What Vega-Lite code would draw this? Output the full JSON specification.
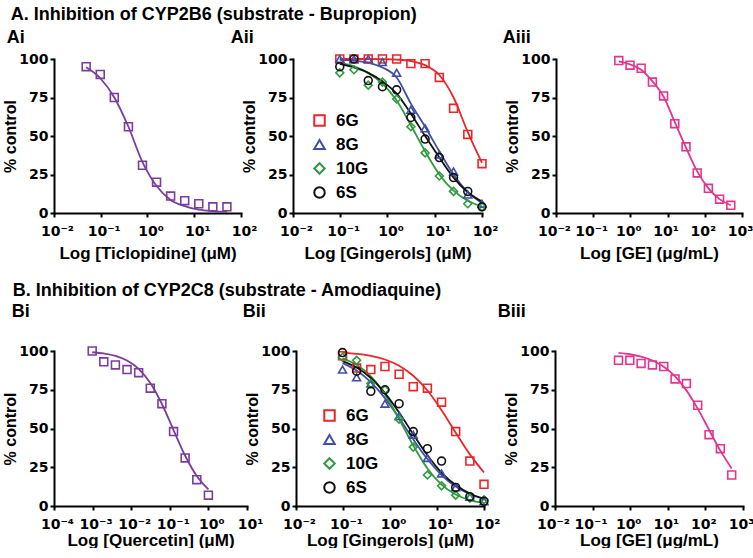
{
  "$schema": "https://vega.github.io/schema/vega-lite/v6.json",
  "background": "white",
  "padding": {"left": 2, "top": 5, "right": 0, "bottom": 0},
  "datasets": {
    "d": [
      {"p":"Ai","c":"Ticlopidine","x":0.0488,"y":95,"f":94.6},
      {"p":"Ai","c":"Ticlopidine","x":0.0977,"y":90,"f":87.5},
      {"p":"Ai","c":"Ticlopidine","x":0.195,"y":75,"f":75},
      {"p":"Ai","c":"Ticlopidine","x":0.391,"y":56,"f":56},
      {"p":"Ai","c":"Ticlopidine","x":0.781,"y":31,"f":33},
      {"p":"Ai","c":"Ticlopidine","x":1.5625,"y":20,"f":17.5},
      {"p":"Ai","c":"Ticlopidine","x":3.125,"y":11,"f":8.5},
      {"p":"Ai","c":"Ticlopidine","x":6.25,"y":8,"f":4.5},
      {"p":"Ai","c":"Ticlopidine","x":12.5,"y":6,"f":2.2},
      {"p":"Ai","c":"Ticlopidine","x":25,"y":4,"f":1.2},
      {"p":"Ai","c":"Ticlopidine","x":50,"y":4,"f":0.7},

      {"p":"Aii","c":"6G","x":0.0977,"y":100,"f":100},
      {"p":"Aii","c":"6G","x":0.195,"y":100,"f":100},
      {"p":"Aii","c":"6G","x":0.391,"y":100,"f":100},
      {"p":"Aii","c":"6G","x":0.781,"y":100,"f":99.9},
      {"p":"Aii","c":"6G","x":1.5625,"y":100,"f":99.6},
      {"p":"Aii","c":"6G","x":3.125,"y":97,"f":98.7},
      {"p":"Aii","c":"6G","x":6.25,"y":97,"f":96},
      {"p":"Aii","c":"6G","x":12.5,"y":88,"f":89.6},
      {"p":"Aii","c":"6G","x":25,"y":68,"f":75},
      {"p":"Aii","c":"6G","x":50,"y":51,"f":52.5},
      {"p":"Aii","c":"6G","x":100,"y":32,"f":32.5},
      {"p":"Aii","c":"8G","x":0.0977,"y":100,"f":99.5},
      {"p":"Aii","c":"8G","x":0.195,"y":100,"f":99},
      {"p":"Aii","c":"8G","x":0.391,"y":100,"f":97.5},
      {"p":"Aii","c":"8G","x":0.781,"y":98,"f":94.5},
      {"p":"Aii","c":"8G","x":1.5625,"y":91,"f":88},
      {"p":"Aii","c":"8G","x":3.125,"y":67,"f":71},
      {"p":"Aii","c":"8G","x":6.25,"y":55,"f":56},
      {"p":"Aii","c":"8G","x":12.5,"y":38,"f":40},
      {"p":"Aii","c":"8G","x":25,"y":27,"f":25},
      {"p":"Aii","c":"8G","x":50,"y":12,"f":13.5},
      {"p":"Aii","c":"8G","x":100,"y":6,"f":6.5},
      {"p":"Aii","c":"10G","x":0.0977,"y":91,"f":97.5},
      {"p":"Aii","c":"10G","x":0.195,"y":93,"f":95.3},
      {"p":"Aii","c":"10G","x":0.391,"y":83,"f":91},
      {"p":"Aii","c":"10G","x":0.781,"y":85,"f":84},
      {"p":"Aii","c":"10G","x":1.5625,"y":74,"f":73},
      {"p":"Aii","c":"10G","x":3.125,"y":56,"f":57},
      {"p":"Aii","c":"10G","x":6.25,"y":39,"f":40},
      {"p":"Aii","c":"10G","x":12.5,"y":24,"f":25},
      {"p":"Aii","c":"10G","x":25,"y":14,"f":14.5},
      {"p":"Aii","c":"10G","x":50,"y":6,"f":8},
      {"p":"Aii","c":"10G","x":100,"y":4,"f":4.3},
      {"p":"Aii","c":"6S","x":0.0977,"y":95,"f":96.8},
      {"p":"Aii","c":"6S","x":0.195,"y":100,"f":94.5},
      {"p":"Aii","c":"6S","x":0.391,"y":86,"f":91},
      {"p":"Aii","c":"6S","x":0.781,"y":82,"f":85.5},
      {"p":"Aii","c":"6S","x":1.5625,"y":80,"f":77.5},
      {"p":"Aii","c":"6S","x":3.125,"y":62,"f":64.5},
      {"p":"Aii","c":"6S","x":6.25,"y":48,"f":50},
      {"p":"Aii","c":"6S","x":12.5,"y":36,"f":36},
      {"p":"Aii","c":"6S","x":25,"y":23,"f":23},
      {"p":"Aii","c":"6S","x":50,"y":14,"f":13.5},
      {"p":"Aii","c":"6S","x":100,"y":4,"f":7.4},

      {"p":"Aiii","c":"GE","x":0.488,"y":99,"f":98.5},
      {"p":"Aiii","c":"GE","x":0.977,"y":96,"f":96.5},
      {"p":"Aiii","c":"GE","x":1.95,"y":94,"f":93},
      {"p":"Aiii","c":"GE","x":3.91,"y":85,"f":85.5},
      {"p":"Aiii","c":"GE","x":7.81,"y":76,"f":75.5},
      {"p":"Aiii","c":"GE","x":15.6,"y":58,"f":59},
      {"p":"Aiii","c":"GE","x":31.25,"y":43,"f":42.5},
      {"p":"Aiii","c":"GE","x":62.5,"y":26,"f":27},
      {"p":"Aiii","c":"GE","x":125,"y":16,"f":16},
      {"p":"Aiii","c":"GE","x":250,"y":9,"f":9},
      {"p":"Aiii","c":"GE","x":500,"y":5,"f":5},

      {"p":"Bi","c":"Quercetin","x":0.000977,"y":100,"f":99.2},
      {"p":"Bi","c":"Quercetin","x":0.00195,"y":93,"f":98.4},
      {"p":"Bi","c":"Quercetin","x":0.0039,"y":91,"f":96.9},
      {"p":"Bi","c":"Quercetin","x":0.0078,"y":88,"f":93.9},
      {"p":"Bi","c":"Quercetin","x":0.0156,"y":86,"f":88.5},
      {"p":"Bi","c":"Quercetin","x":0.03125,"y":76,"f":79.3},
      {"p":"Bi","c":"Quercetin","x":0.0625,"y":66,"f":65.8},
      {"p":"Bi","c":"Quercetin","x":0.125,"y":48,"f":49},
      {"p":"Bi","c":"Quercetin","x":0.25,"y":31,"f":32.4},
      {"p":"Bi","c":"Quercetin","x":0.5,"y":17,"f":19.3},
      {"p":"Bi","c":"Quercetin","x":1,"y":7,"f":10.7},

      {"p":"Bii","c":"6G","x":0.0977,"y":97,"f":99},
      {"p":"Bii","c":"6G","x":0.195,"y":89,"f":98.2},
      {"p":"Bii","c":"6G","x":0.391,"y":88,"f":96.9},
      {"p":"Bii","c":"6G","x":0.781,"y":90,"f":94.5},
      {"p":"Bii","c":"6G","x":1.5625,"y":85,"f":90.5},
      {"p":"Bii","c":"6G","x":3.125,"y":77,"f":84},
      {"p":"Bii","c":"6G","x":6.25,"y":76,"f":74.5},
      {"p":"Bii","c":"6G","x":12.5,"y":67,"f":61.8},
      {"p":"Bii","c":"6G","x":25,"y":48,"f":47.3},
      {"p":"Bii","c":"6G","x":50,"y":29,"f":33.3},
      {"p":"Bii","c":"6G","x":100,"y":14,"f":21.6},
      {"p":"Bii","c":"8G","x":0.0977,"y":88,"f":92.2},
      {"p":"Bii","c":"8G","x":0.195,"y":83,"f":87.4},
      {"p":"Bii","c":"8G","x":0.391,"y":79,"f":79.9},
      {"p":"Bii","c":"8G","x":0.781,"y":66,"f":69.6},
      {"p":"Bii","c":"8G","x":1.5625,"y":58,"f":56.8},
      {"p":"Bii","c":"8G","x":3.125,"y":46,"f":43},
      {"p":"Bii","c":"8G","x":6.25,"y":31,"f":30.3},
      {"p":"Bii","c":"8G","x":12.5,"y":21,"f":20},
      {"p":"Bii","c":"8G","x":25,"y":12,"f":12.5},
      {"p":"Bii","c":"8G","x":50,"y":6,"f":7.6},
      {"p":"Bii","c":"8G","x":100,"y":3,"f":4.5},
      {"p":"Bii","c":"10G","x":0.0977,"y":96,"f":95.3},
      {"p":"Bii","c":"10G","x":0.195,"y":94,"f":91.1},
      {"p":"Bii","c":"10G","x":0.391,"y":79,"f":83.6},
      {"p":"Bii","c":"10G","x":0.781,"y":75,"f":71.9},
      {"p":"Bii","c":"10G","x":1.5625,"y":56,"f":56.1},
      {"p":"Bii","c":"10G","x":3.125,"y":38,"f":39},
      {"p":"Bii","c":"10G","x":6.25,"y":20,"f":24.2},
      {"p":"Bii","c":"10G","x":12.5,"y":13,"f":13.8},
      {"p":"Bii","c":"10G","x":25,"y":7,"f":7.4},
      {"p":"Bii","c":"10G","x":50,"y":5,"f":3.8},
      {"p":"Bii","c":"10G","x":100,"y":4,"f":2.0},
      {"p":"Bii","c":"6S","x":0.0977,"y":99,"f":93.5},
      {"p":"Bii","c":"6S","x":0.195,"y":87,"f":89.3},
      {"p":"Bii","c":"6S","x":0.391,"y":74,"f":82.6},
      {"p":"Bii","c":"6S","x":0.781,"y":75,"f":72.8},
      {"p":"Bii","c":"6S","x":1.5625,"y":66,"f":60.3},
      {"p":"Bii","c":"6S","x":3.125,"y":48,"f":46.3},
      {"p":"Bii","c":"6S","x":6.25,"y":37,"f":32.8},
      {"p":"Bii","c":"6S","x":12.5,"y":29,"f":21.6},
      {"p":"Bii","c":"6S","x":25,"y":12,"f":13.5},
      {"p":"Bii","c":"6S","x":50,"y":6,"f":8.1},
      {"p":"Bii","c":"6S","x":100,"y":3,"f":4.8},

      {"p":"Biii","c":"GE","x":0.488,"y":94,"f":98.8},
      {"p":"Biii","c":"GE","x":0.977,"y":94,"f":97.9},
      {"p":"Biii","c":"GE","x":1.95,"y":92,"f":96.4},
      {"p":"Biii","c":"GE","x":3.91,"y":91,"f":93.9},
      {"p":"Biii","c":"GE","x":7.81,"y":90,"f":89.9},
      {"p":"Biii","c":"GE","x":15.6,"y":82,"f":83.6},
      {"p":"Biii","c":"GE","x":31.25,"y":79,"f":74.6},
      {"p":"Biii","c":"GE","x":62.5,"y":65,"f":62.8},
      {"p":"Biii","c":"GE","x":125,"y":46,"f":49.2},
      {"p":"Biii","c":"GE","x":250,"y":37,"f":35.7},
      {"p":"Biii","c":"GE","x":500,"y":20,"f":24.2}
    ]
  },
  "data": {"name": "d"},
  "config": {
    "view": {"stroke": null},
    "font": "Liberation Sans",
    "axis": {
      "domainColor": "black", "domainWidth": 2, "domainCap": "square",
      "tickColor": "black", "tickWidth": 2, "tickSize": 4,
      "labelFont": "DejaVu Sans", "labelFontWeight": "bold", "labelFontSize": 14, "labelColor": "black",
      "titleFont": "Liberation Sans", "titleFontWeight": "bold", "titleColor": "black",
      "grid": false, "labelPadding": 2
    },
    "axisX": {"titleFontSize": 17, "labelAlign": "center", "labelOffset": 3, "labelPadding": 7, "titlePadding": 1, "labelFlush": false},
    "axisY": {"titleFontSize": 16, "titlePadding": 0},
    "title": {"font": "Liberation Sans", "fontWeight": "bold", "fontSize": 18, "color": "black", "anchor": "start", "frame": "bounds"},
    "legend": {"labelFont": "Liberation Sans", "labelFontWeight": "bold", "labelFontSize": 17, "labelColor": "black", "symbolStrokeWidth": 2, "symbolSize": 110, "rowPadding": 5, "labelOffset": 8},
    "point": {"opacity": 1},
    "line": {"strokeWidth": 1.8, "interpolate": "monotone"}
  },
  "spacing": 20,
  "resolve": {"scale": {"x": "independent", "y": "independent", "color": "independent", "shape": "independent"}, "legend": {"color": "independent", "shape": "independent"}},
  "vconcat": [
    {
      "title": {"text": "A. Inhibition of CYP2B6 (substrate - Bupropion)", "offset": 5, "dx": 8},
      "bounds": "flush",
      "spacing": 0,
      "resolve": {"scale": {"x": "independent", "y": "independent", "color": "independent", "shape": "independent"}, "legend": {"color": "independent", "shape": "independent"}},
      "hconcat": [
        {
          "title": {"text": "Ai", "offset": 5, "dx": 4},
          "width": 187, "height": 154,
          "transform": [{"filter": "datum.p == 'Ai'"}],
          "encoding": {
            "x": {"field": "x", "type": "quantitative", "scale": {"type": "log", "domain": [0.01, 100]},
                  "axis": {"values": [0.01, 0.1, 1, 10, 100], "title": "Log [Ticlopidine] (μM)", "titlePadding": 7,
                           "labelExpr": "'10' + ['⁻⁴','⁻³','⁻²','⁻¹','⁰','¹','²','³'][round(log(datum.value)/LN10)+4]"}},
            "y": {"field": "y", "type": "quantitative", "title": "% control", "scale": {"domain": [0, 100], "nice": false},
                  "axis": {"values": [0, 25, 50, 75, 100]}}
          },
          "layer": [
            {"mark": {"type": "line", "color": "#7A3C9E"}, "encoding": {"y": {"field": "f", "type": "quantitative", "title": "% control"}}},
            {"mark": {"type": "point", "shape": "square", "color": "#7A3C9E", "size": 62, "strokeWidth": 1.6, "filled": false}}
          ]
        },
        {"width": 52, "height": 10, "transform": [{"filter": "false"}], "mark": {"type": "point"}},
        {
          "title": {"text": "Aii", "offset": 5, "dx": -11},
          "width": 189, "height": 154,
          "transform": [{"filter": "datum.p == 'Aii'"}],
          "encoding": {
            "x": {"field": "x", "type": "quantitative", "scale": {"type": "log", "domain": [0.01, 100]},
                  "axis": {"values": [0.01, 0.1, 1, 10, 100], "title": "Log [Gingerols] (μM)", "titlePadding": 7,
                           "labelExpr": "'10' + ['⁻⁴','⁻³','⁻²','⁻¹','⁰','¹','²','³'][round(log(datum.value)/LN10)+4]"}},
            "y": {"field": "y", "type": "quantitative", "title": "% control", "scale": {"domain": [0, 100], "nice": false},
                  "axis": {"values": [0, 25, 50, 75, 100]}}
          },
          "layer": [
            {"transform": [{"filter": "datum.c == '6G'"}], "mark": {"type": "line", "color": "#E8262B"}, "encoding": {"y": {"field": "f", "type": "quantitative", "title": "% control"}}},
            {"transform": [{"filter": "datum.c == '8G'"}], "mark": {"type": "line", "color": "#3F4FA8"}, "encoding": {"y": {"field": "f", "type": "quantitative", "title": "% control"}}},
            {"transform": [{"filter": "datum.c == '10G'"}], "mark": {"type": "line", "color": "#2E9B3E"}, "encoding": {"y": {"field": "f", "type": "quantitative", "title": "% control"}}},
            {"transform": [{"filter": "datum.c == '6S'"}], "mark": {"type": "line", "color": "#111111"}, "encoding": {"y": {"field": "f", "type": "quantitative", "title": "% control"}}},
            {"mark": {"type": "point", "size": 62, "strokeWidth": 1.6, "filled": false},
             "encoding": {
               "color": {"field": "c", "type": "nominal", "scale": {"domain": ["6G", "8G", "10G", "6S"], "range": ["#E8262B", "#3F4FA8", "#2E9B3E", "#111111"]},
                         "legend": {"title": null, "orient": "none", "legendX": 18, "legendY": 53}},
               "shape": {"field": "c", "type": "nominal", "scale": {"domain": ["6G", "8G", "10G", "6S"], "range": ["square", "triangle-up", "diamond", "circle"]},
                         "legend": {"title": null, "orient": "none", "legendX": 18, "legendY": 53}}}}
          ]
        },
        {"width": 74, "height": 10, "transform": [{"filter": "false"}], "mark": {"type": "point"}},
        {
          "title": {"text": "Aiii", "offset": 5, "dx": -2},
          "width": 186, "height": 154,
          "transform": [{"filter": "datum.p == 'Aiii'"}],
          "encoding": {
            "x": {"field": "x", "type": "quantitative", "scale": {"type": "log", "domain": [0.01, 1000]},
                  "axis": {"values": [0.01, 0.1, 1, 10, 100, 1000], "title": "Log [GE] (μg/mL)", "titlePadding": 7, "labelOffset": -2,
                           "labelExpr": "'10' + ['⁻⁴','⁻³','⁻²','⁻¹','⁰','¹','²','³'][round(log(datum.value)/LN10)+4]"}},
            "y": {"field": "y", "type": "quantitative", "title": "% control", "scale": {"domain": [0, 100], "nice": false},
                  "axis": {"values": [0, 25, 50, 75, 100]}}
          },
          "layer": [
            {"mark": {"type": "line", "color": "#E3358E"}, "encoding": {"y": {"field": "f", "type": "quantitative", "title": "% control"}}},
            {"mark": {"type": "point", "shape": "square", "color": "#E3358E", "size": 62, "strokeWidth": 1.6, "filled": false}}
          ]
        }
      ]
    },
    {
      "title": {"text": "B. Inhibition of CYP2C8 (substrate - Amodiaquine)", "offset": 3, "dx": 10},
      "bounds": "flush",
      "spacing": 0,
      "resolve": {"scale": {"x": "independent", "y": "independent", "color": "independent", "shape": "independent"}, "legend": {"color": "independent", "shape": "independent"}},
      "hconcat": [
        {
          "title": {"text": "Bi", "offset": 23, "dx": 9},
          "width": 193, "height": 155,
          "transform": [{"filter": "datum.p == 'Bi'"}],
          "encoding": {
            "x": {"field": "x", "type": "quantitative", "scale": {"type": "log", "domain": [0.0001, 10]},
                  "axis": {"values": [0.0001, 0.001, 0.01, 0.1, 1, 10], "title": "Log [Quercetin] (μM)",
                           "labelExpr": "'10' + ['⁻⁴','⁻³','⁻²','⁻¹','⁰','¹','²','³'][round(log(datum.value)/LN10)+4]"}},
            "y": {"field": "y", "type": "quantitative", "title": "% control", "scale": {"domain": [0, 100], "nice": false},
                  "axis": {"values": [0, 25, 50, 75, 100]}}
          },
          "layer": [
            {"mark": {"type": "line", "color": "#7A3C9E"}, "encoding": {"y": {"field": "f", "type": "quantitative", "title": "% control"}}},
            {"mark": {"type": "point", "shape": "square", "color": "#7A3C9E", "size": 62, "strokeWidth": 1.6, "filled": false}}
          ]
        },
        {"width": 49, "height": 10, "transform": [{"filter": "false"}], "mark": {"type": "point"}},
        {
          "title": {"text": "Bii", "offset": 23, "dx": -2},
          "width": 188, "height": 155,
          "transform": [{"filter": "datum.p == 'Bii'"}],
          "encoding": {
            "x": {"field": "x", "type": "quantitative", "scale": {"type": "log", "domain": [0.01, 100]},
                  "axis": {"values": [0.01, 0.1, 1, 10, 100], "title": "Log [Gingerols] (μM)",
                           "labelExpr": "'10' + ['⁻⁴','⁻³','⁻²','⁻¹','⁰','¹','²','³'][round(log(datum.value)/LN10)+4]"}},
            "y": {"field": "y", "type": "quantitative", "title": "% control", "scale": {"domain": [0, 100], "nice": false},
                  "axis": {"values": [0, 25, 50, 75, 100]}}
          },
          "layer": [
            {"transform": [{"filter": "datum.c == '6G'"}], "mark": {"type": "line", "color": "#E8262B"}, "encoding": {"y": {"field": "f", "type": "quantitative", "title": "% control"}}},
            {"transform": [{"filter": "datum.c == '8G'"}], "mark": {"type": "line", "color": "#3F4FA8"}, "encoding": {"y": {"field": "f", "type": "quantitative", "title": "% control"}}},
            {"transform": [{"filter": "datum.c == '10G'"}], "mark": {"type": "line", "color": "#2E9B3E"}, "encoding": {"y": {"field": "f", "type": "quantitative", "title": "% control"}}},
            {"transform": [{"filter": "datum.c == '6S'"}], "mark": {"type": "line", "color": "#111111"}, "encoding": {"y": {"field": "f", "type": "quantitative", "title": "% control"}}},
            {"mark": {"type": "point", "size": 62, "strokeWidth": 1.6, "filled": false},
             "encoding": {
               "color": {"field": "c", "type": "nominal", "scale": {"domain": ["6G", "8G", "10G", "6S"], "range": ["#E8262B", "#3F4FA8", "#2E9B3E", "#111111"]},
                         "legend": {"title": null, "orient": "none", "legendX": 25, "legendY": 56}},
               "shape": {"field": "c", "type": "nominal", "scale": {"domain": ["6G", "8G", "10G", "6S"], "range": ["square", "triangle-up", "diamond", "circle"]},
                         "legend": {"title": null, "orient": "none", "legendX": 25, "legendY": 56}}}}
          ]
        },
        {"width": 71, "height": 10, "transform": [{"filter": "false"}], "mark": {"type": "point"}},
        {
          "title": {"text": "Biii", "offset": 23, "dx": -6},
          "width": 188, "height": 155,
          "transform": [{"filter": "datum.p == 'Biii'"}],
          "encoding": {
            "x": {"field": "x", "type": "quantitative", "scale": {"type": "log", "domain": [0.01, 1000]},
                  "axis": {"values": [0.01, 0.1, 1, 10, 100, 1000], "title": "Log [GE] (μg/mL)", "labelOffset": -2,
                           "labelExpr": "'10' + ['⁻⁴','⁻³','⁻²','⁻¹','⁰','¹','²','³'][round(log(datum.value)/LN10)+4]"}},
            "y": {"field": "y", "type": "quantitative", "title": "% control", "scale": {"domain": [0, 100], "nice": false},
                  "axis": {"values": [0, 25, 50, 75, 100]}}
          },
          "layer": [
            {"mark": {"type": "line", "color": "#E3358E"}, "encoding": {"y": {"field": "f", "type": "quantitative", "title": "% control"}}},
            {"mark": {"type": "point", "shape": "square", "color": "#E3358E", "size": 62, "strokeWidth": 1.6, "filled": false}}
          ]
        }
      ]
    }
  ]
}
